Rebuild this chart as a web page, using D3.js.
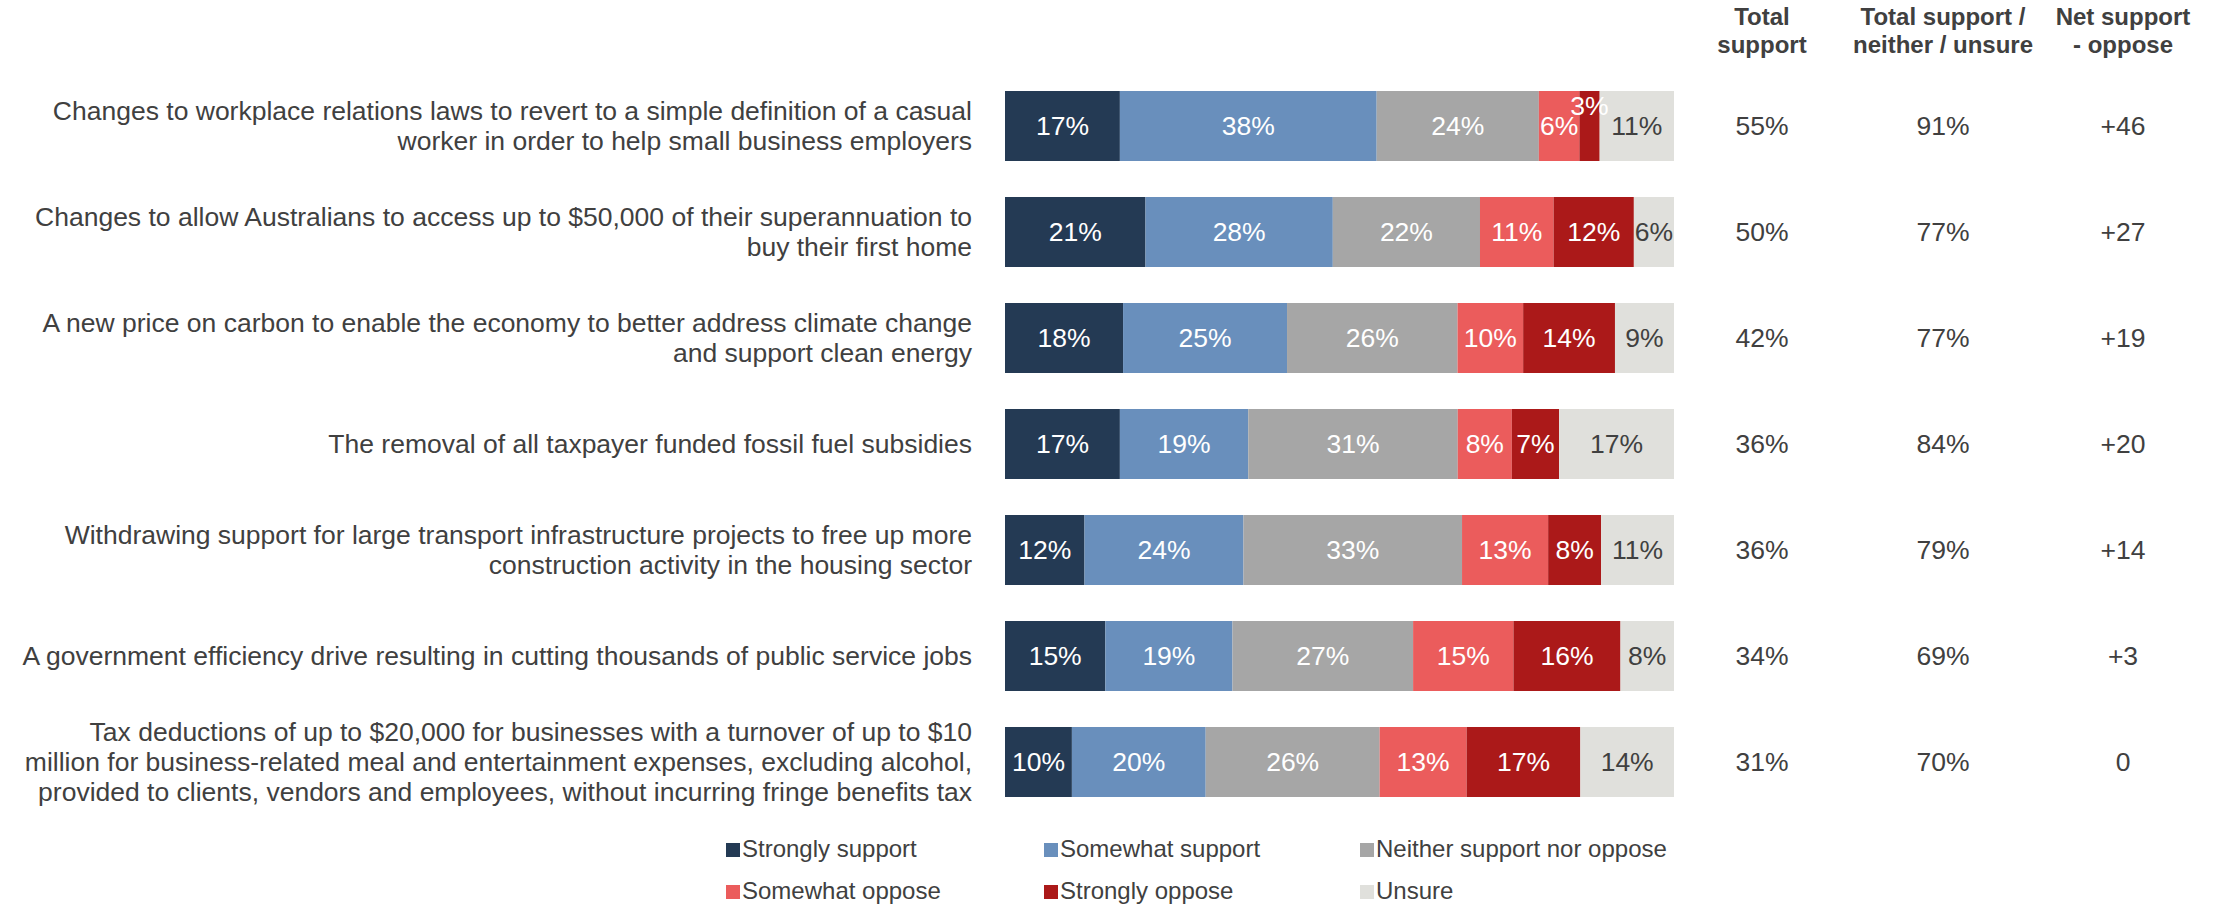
<!DOCTYPE html>
<html>
<head>
<meta charset="utf-8">
<script src="https://cdn.jsdelivr.net/npm/d3@7"></script>
<style>
  body { margin: 0; background: #fff; }
  svg { font-family: "Liberation Sans", Arial, sans-serif; }
</style>
</head>
<body>
<svg id="chart" width="2219" height="906"></svg>
<script>
// chart data
let statements = [
    ["Changes to workplace relations laws to revert to a simple definition of a casual",
        "worker in order to help small business employers"],
    ["Changes to allow Australians to access up to $50,000 of their superannuation to",
        "buy their first home"],
    ["A new price on carbon to enable the economy to better address climate change",
        "and support clean energy"],
    ["The removal of all taxpayer funded fossil fuel subsidies"],
    ["Withdrawing support for large transport infrastructure projects to free up more",
        "construction activity in the housing sector"],
    ["A government efficiency drive resulting in cutting thousands of public service jobs"],
    ["Tax deductions of up to $20,000 for businesses with a turnover of up to $10",
        "million for business-related meal and entertainment expenses, excluding alcohol,",
        "provided to clients, vendors and employees, without incurring fringe benefits tax"]
];

let responses = ["Strongly support", "Somewhat support", "Neither support nor oppose",
    "Somewhat oppose", "Strongly oppose", "Unsure"];

let stronglySupport = [17, 21, 18, 17, 12, 15, 10];
let somewhatSupport = [38, 28, 25, 19, 24, 19, 20];
let neither = [24, 22, 26, 31, 33, 27, 26];
let somewhatOppose = [6, 11, 10, 8, 13, 15, 13];
let stronglyOppose = [3, 12, 14, 7, 8, 16, 17];
let unsure = [11, 6, 9, 17, 11, 8, 14];

let totalSupport = ["55%", "50%", "42%", "36%", "36%", "34%", "31%"];
let supportNeitherUnsure = ["91%", "77%", "77%", "84%", "79%", "69%", "70%"];
let netSupport = ["+46", "+27", "+19", "+20", "+14", "+3", "0"];

let columnHeads = [["Total", "support"], ["Total support /", "neither / unsure"], ["Net support", "- oppose"]];

let series = [stronglySupport, somewhatSupport, neither, somewhatOppose, stronglyOppose, unsure];

let svg = d3.select("#chart");
let textColor = "#404040";

let color = d3.scaleOrdinal()
    .domain(responses)
    .range(["#243a54", "#698fbc", "#a6a6a6", "#eb5c5c", "#ab1919", "#e0e0dc"]);

let labelColor = d3.scaleOrdinal()
    .domain(responses)
    .range(["#fff", "#fff", "#fff", "#fff", "#fff", textColor]);

let rows = d3.range(statements.length);

let y = d3.scalePoint()
    .domain(rows)
    .range([126, 762]);

let x = d3.scaleLinear()
    .domain([0, 1])
    .range([1005, 1674]);

let barHeight = 70;

// build stacked rows, each normalised to the full bar width
let stacked = rows.map(function (r) {
    let vals = series.map(function (s) { return s[r]; });
    let sum = d3.sum(vals);
    let acc = 0;
    return vals.map(function (v, i) {
        let seg = { row: r, key: responses[i], value: v, x0: acc / sum, x1: (acc + v) / sum };
        acc += v;
        return seg;
    });
});

// statement labels
let labels = svg.append("g");
rows.forEach(function (r) {
    let lines = statements[r];
    let lineH = 30;
    let t = labels.append("text")
        .attr("text-anchor", "end")
        .attr("font-size", 26.5)
        .attr("fill", textColor);
    lines.forEach(function (line, i) {
        t.append("tspan")
            .attr("x", 972)
            .attr("y", y(r) + (i - (lines.length - 1) / 2) * lineH)
            .attr("dy", "0.35em")
            .text(line);
    });
});

// bars
let bars = svg.append("g");
let rowG = bars.selectAll("g")
    .data(stacked)
    .enter()
    .append("g");

rowG.selectAll("rect")
    .data(function (d) { return d; })
    .enter()
    .append("rect")
    .attr("x", function (d) { return x(d.x0); })
    .attr("y", function (d) { return y(d.row) - barHeight / 2; })
    .attr("width", function (d) { return x(d.x1) - x(d.x0); })
    .attr("height", barHeight)
    .attr("fill", function (d) { return color(d.key); });

rowG.selectAll("text")
    .data(function (d) { return d; })
    .enter()
    .append("text")
    .attr("x", function (d) { return (x(d.x0) + x(d.x1)) / 2; })
    .attr("y", function (d) {
        // tiny segments get their label nudged up
        return y(d.row) + ((d.x1 - d.x0) < 0.04 ? -20 : 0);
    })
    .attr("dy", "0.35em")
    .attr("text-anchor", "middle")
    .attr("font-size", 26.5)
    .attr("fill", function (d) { return labelColor(d.key); })
    .text(function (d) { return d.value + "%"; });

// summary columns
let colX = [1762, 1943, 2123];
let colData = [totalSupport, supportNeitherUnsure, netSupport];

columnHeads.forEach(function (head, c) {
    let t = svg.append("text")
        .attr("text-anchor", "middle")
        .attr("font-size", 24)
        .attr("font-weight", "bold")
        .attr("fill", textColor);
    head.forEach(function (line, i) {
        t.append("tspan")
            .attr("x", colX[c])
            .attr("y", 17 + i * 28)
            .attr("dy", "0.35em")
            .text(line);
    });

    svg.append("g")
        .selectAll("text")
        .data(colData[c])
        .enter()
        .append("text")
        .attr("x", colX[c])
        .attr("y", function (d, i) { return y(i); })
        .attr("dy", "0.35em")
        .attr("text-anchor", "middle")
        .attr("font-size", 26.5)
        .attr("fill", textColor)
        .text(function (d) { return d; });
});

// legend
let legendX = [726, 1044, 1360];
let legendY = [849, 891];
let legend = svg.append("g")
    .selectAll("g")
    .data(responses)
    .enter()
    .append("g")
    .attr("transform", function (d, i) {
        return "translate(" + legendX[i % 3] + "," + legendY[Math.floor(i / 3)] + ")";
    });

legend.append("rect")
    .attr("x", 0)
    .attr("y", -6)
    .attr("width", 14)
    .attr("height", 14)
    .attr("fill", function (d) { return color(d); });

legend.append("text")
    .attr("x", 16)
    .attr("y", 0)
    .attr("dy", "0.35em")
    .attr("font-size", 24)
    .attr("fill", textColor)
    .text(function (d) { return d; });
</script>
</body>
</html>
